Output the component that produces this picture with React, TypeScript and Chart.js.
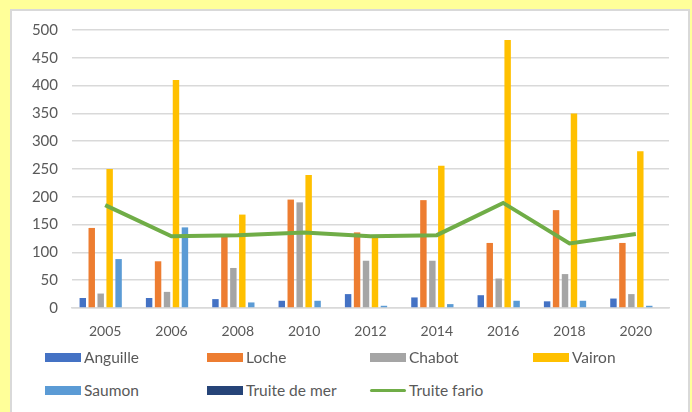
import React, { useEffect, useRef } from "react";
import { Chart, registerables } from "chart.js";

Chart.register(...registerables);

const years = ["2005", "2006", "2008", "2010", "2012", "2014", "2016", "2018", "2020"];
const anguille = [18, 18, 16, 13, 25, 19, 23, 12, 17];
const loche = [144, 84, 130, 195, 136, 194, 117, 176, 117];
const chabot = [26, 29, 72, 190, 85, 85, 53, 61, 25];
const vairon = [250, 410, 168, 239, 126, 256, 482, 350, 282];
const saumon = [88, 145, 10, 13, 4, 7, 13, 13, 4];
const truiteMer = [0, 0, 0, 0, 0, 0, 0, 0, 0];
const truiteFario = [185, 129, 131, 136, 129, 131, 189, 116, 133];
const yTicks = [0, 50, 100, 150, 200, 250, 300, 350, 400, 450, 500];

const FONT = "Lato, 'Noto Sans', sans-serif";
const TEXT = "#595959";

const legendItems = [
  { label: "Anguille", color: "#4472C4", type: "box", x: 45, y: 357 },
  { label: "Loche", color: "#ED7D31", type: "box", x: 207, y: 357 },
  { label: "Chabot", color: "#A5A5A5", type: "box", x: 370, y: 357 },
  { label: "Vairon", color: "#FFC000", type: "box", x: 533, y: 357 },
  { label: "Saumon", color: "#5B9BD5", type: "box", x: 45, y: 390 },
  { label: "Truite de mer", color: "#264478", type: "box", x: 207, y: 390 },
  { label: "Truite fario", color: "#70AD47", type: "line", x: 370, y: 390 },
];

export default function App() {
  const ref = useRef<HTMLCanvasElement | null>(null);

  useEffect(() => {
    if (!ref.current) return;
    const bar = (label: string, data: number[], color: string) => ({
      type: "bar" as const,
      label,
      data,
      backgroundColor: color,
      borderWidth: 0,
      order: 1,
      categoryPercentage: 0.81,
      barPercentage: 0.72,
    });
    const chart = new Chart(ref.current, {
      type: "bar",
      data: {
        labels: years,
        datasets: [
          bar("Anguille", anguille, "#4472C4"),
          bar("Loche", loche, "#ED7D31"),
          bar("Chabot", chabot, "#A5A5A5"),
          bar("Vairon", vairon, "#FFC000"),
          bar("Saumon", saumon, "#5B9BD5"),
          bar("Truite de mer", truiteMer, "#264478"),
          {
            type: "line" as const,
            label: "Truite fario",
            data: truiteFario,
            borderColor: "#70AD47",
            backgroundColor: "#70AD47",
            borderWidth: 4,
            pointRadius: 0,
            tension: 0,
            order: 0,
          } as any,
        ],
      },
      options: {
        animation: false,
        responsive: false,
        layout: { padding: { left: 0, right: 19, top: 16, bottom: 0 } },
        plugins: { legend: { display: false }, tooltip: { enabled: false } },
        scales: {
          x: {
            grid: { display: false },
            border: { display: true, color: "#D9D9D9", width: 1.5 },
            ticks: { color: TEXT, font: { family: FONT, size: 14 }, padding: 7, maxRotation: 0 },
            afterFit: (s: any) => {
              s.height = 43;
            },
          },
          y: {
            min: 0,
            max: 500,
            afterBuildTicks: (s: any) => {
              s.ticks = yTicks.map((v) => ({ value: v }));
            },
            grid: { color: "#D9D9D9", lineWidth: 1.5, drawTicks: false },
            border: { display: false },
            ticks: { color: TEXT, font: { family: FONT, size: 15 }, padding: 14 },
            afterFit: (s: any) => {
              s.width = 60;
            },
          },
        },
      },
    });
    return () => chart.destroy();
  }, []);

  return (
    <div style={{ position: "fixed", left: 0, top: 0, width: 692, height: 412, background: "#FFFF99", overflow: "hidden" }}>
      <div
        style={{
          position: "absolute",
          left: 10,
          top: 9,
          width: 680,
          height: 430,
          background: "#FFFFFF",
          border: "2px solid #D9D9D9",
          boxSizing: "border-box",
        }}
      />
      <canvas
        ref={ref}
        width={676}
        height={344}
        style={{ position: "absolute", left: 12, top: 7, width: 676, height: 344 }}
      />
      {legendItems.map((it) => (
        <div
          key={it.label}
          style={{
            position: "absolute",
            left: it.x,
            top: it.y - 10,
            height: 20,
            display: "flex",
            alignItems: "center",
            fontFamily: FONT,
            fontSize: 15.5,
            color: TEXT,
            whiteSpace: "nowrap",
          }}
        >
          <span
            style={{
              display: "inline-block",
              width: 36,
              height: it.type === "line" ? 3 : 9,
              borderRadius: it.type === "line" ? 2 : 0,
              background: it.color,
              marginRight: 3,
            }}
          />
          <span>{it.label}</span>
        </div>
      ))}
    </div>
  );
}
